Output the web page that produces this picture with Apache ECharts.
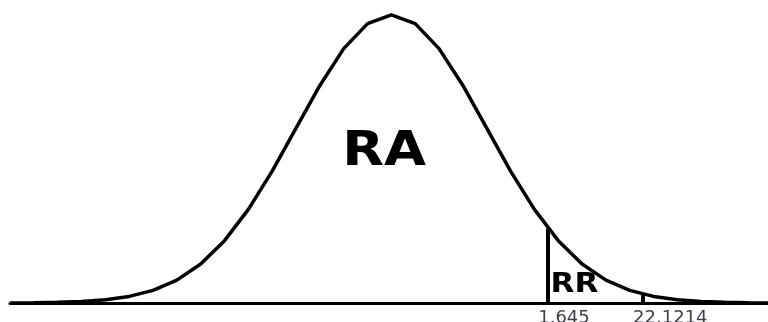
<!DOCTYPE html>
<html>
<head>
<meta charset="utf-8">
<script src="https://cdn.jsdelivr.net/npm/echarts@6/dist/echarts.min.js"></script>
<style>
html,body{margin:0;padding:0;background:#fff;}
#chart{width:768px;height:322px;}
</style>
</head>
<body>
<div id="chart"></div>
<script>
// z values of the drawn curve vertices
var zValues = [-4, -3.75, -3.5, -3.25, -3, -2.75, -2.5, -2.25, -2, -1.75, -1.5, -1.25, -1, -0.75, -0.5, -0.25, 0,
  0.25, 0.5, 0.75, 1, 1.25, 1.5, 1.75, 2, 2.25, 2.5, 2.75, 3, 3.25, 3.5, 3.75, 4];
// density heights
var density = [0.0001, 0.0004, 0.0009, 0.002, 0.0044, 0.0091, 0.0175, 0.0317, 0.054, 0.0863, 0.1295, 0.1826, 0.242, 0.3011, 0.3521, 0.3867, 0.3989,
  0.3867, 0.3521, 0.3011, 0.242, 0.1826, 0.1295, 0.0863, 0.054, 0.0317, 0.0175, 0.0091, 0.0044, 0.002, 0.0009, 0.0004, 0.0001];
// marked positions on the axis, their heights up to the curve, and labels
var markPositions = [1.645, 2.64];
var markHeights = [0.103, 0.0122];
var markLabels = ['1.645', '22.1214'];
var regionLabels = ['RA', 'RR'];

var curve = zValues.map(function (z, i) { return [z, density[i]]; });
var markLines = markPositions.map(function (p, i) {
  return [{ coord: [p, 0] }, { coord: [p, markHeights[i]] }];
});
var labelPoints = markPositions.map(function (p, i) {
  return { value: [p, 0], name: markLabels[i] };
});

var chart = echarts.init(document.getElementById('chart'), null, { renderer: 'canvas' });
chart.setOption({
  animation: false,
  backgroundColor: '#ffffff',
  grid: { left: 10, right: 0, top: 14, bottom: 19, containLabel: false },
  xAxis: {
    type: 'value', min: -4, max: 3.95,
    axisLine: { show: true, onZero: false, lineStyle: { color: '#000', width: 3 } },
    axisTick: { show: false }, axisLabel: { show: false }, splitLine: { show: false }
  },
  yAxis: {
    type: 'value', min: 0, max: 0.4, show: false,
    splitLine: { show: false }
  },
  series: [
    {
      type: 'line', data: curve, symbol: 'none', smooth: false, clip: true,
      lineStyle: { color: '#000', width: 3.5 },
      markLine: {
        silent: true, symbol: 'none', animation: false,
        lineStyle: { color: '#000', width: 4, type: 'solid' },
        emphasis: { disabled: true },
        label: { show: false },
        data: markLines
      }
    },
    {
      type: 'scatter', data: labelPoints, symbolSize: 0, silent: true, clip: false,
      label: {
        show: true, position: 'bottom', distance: 6, align: 'left', offset: [-10, 0],
        formatter: function (p) { return p.name; },
        fontFamily: 'DejaVu Sans', fontSize: 18, color: '#0d0d1a'
      }
    }
  ],
  graphic: [
    {
      type: 'text', x: 384, y: 153, scaleX: 1.13,
      style: { text: regionLabels[0], font: 'bold 48px "DejaVu Sans"', fill: '#000', textAlign: 'center', textVerticalAlign: 'middle' }
    },
    {
      type: 'text', x: 574.5, y: 285, scaleX: 1.15,
      style: { text: regionLabels[1], font: 'bold 27px "DejaVu Sans"', fill: '#000', textAlign: 'center', textVerticalAlign: 'middle' }
    }
  ]
});
</script>
</body>
</html>
